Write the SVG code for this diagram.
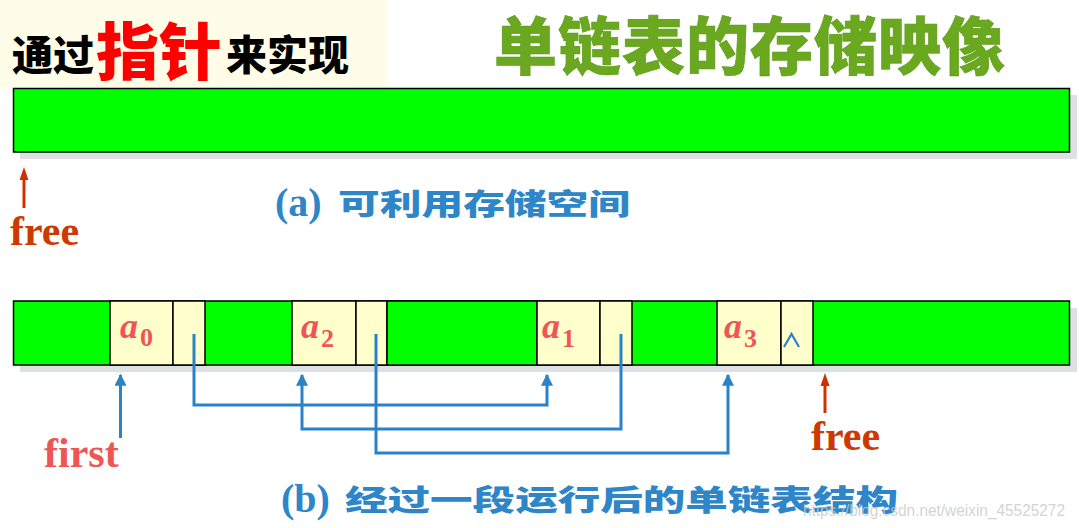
<svg xmlns="http://www.w3.org/2000/svg" width="1079" height="528" viewBox="0 0 1079 528">
<defs>
<style>
.g{fill:#00ff00;stroke:#000;stroke-width:1.5}
.y{fill:#ffffcc;stroke:#000;stroke-width:1.5}
.sh{fill:#dee1e4}
.blue{fill:none;stroke:#2a82c8;stroke-width:3}
.red{fill:none;stroke:#cc3300;stroke-width:3}
.rh{fill:#cc3300}
.cjk{font-family:"Noto Sans CJK SC",sans-serif;font-weight:900}
.ser{font-family:"Liberation Serif",serif;font-weight:bold}
.lab{font-family:"Liberation Serif",serif;font-weight:bold;fill:#f05555}
.cap{fill:#2e86c8}
.free{fill:#cc3a00}
</style>
<marker id="ab" viewBox="0 0 10 10" refX="9" refY="5" markerWidth="4" markerHeight="4" orient="auto" markerUnits="strokeWidth">
<path d="M0,0 L10,5 L0,10 z" fill="#2a82c8"/>
</marker>
</defs>

<g id="title-left">
<rect x="0" y="0" width="388" height="87" fill="#fffde7"/>
<text class="cjk" y="70" font-size="41" fill="#000"><tspan x="12">通过</tspan><tspan x="96" y="75" font-size="62" fill="#ff0000" textLength="126" lengthAdjust="spacingAndGlyphs">指针</tspan><tspan x="226" y="70">来实现</tspan></text>
</g>

<g id="title-right">
<text class="cjk" x="494" y="69" font-size="63" fill="#6aa820" stroke="#5e9a1a" stroke-width="0.6" letter-spacing="1">单链表的存储映像</text>
</g>

<g id="memory-a">
<rect class="sh" x="20" y="95" width="1057" height="64"/>
<rect class="g" x="13.5" y="88.5" width="1056" height="63.5"/>
</g>

<g id="caption-a" class="cap">
<text class="ser" x="275" y="216" font-size="40">(a)</text>
<text class="cjk" x="338" y="215" font-size="29" textLength="292" lengthAdjust="spacingAndGlyphs" font-weight="bold">可利用存储空间</text>
</g>

<g id="free-a">
<line class="red" x1="24" y1="208" x2="24" y2="178"/>
<polygon class="rh" points="24,167 19.5,180 28.5,180"/>
<text class="ser free" x="10" y="245" font-size="42">free</text>
</g>

<g id="memory-b">
<rect class="sh" x="20" y="308" width="1057" height="64"/>
<rect class="g" x="13.5" y="301" width="1056" height="64"/>
<rect class="y" x="110" y="301" width="63" height="64"/>
<rect class="y" x="173" y="301" width="32" height="64"/>
<rect class="y" x="292" y="301" width="64" height="64"/>
<rect class="y" x="356" y="301" width="31" height="64"/>
<rect class="g" x="387" y="301" width="150" height="64"/>
<rect class="y" x="537" y="301" width="63" height="64"/>
<rect class="y" x="600" y="301" width="32" height="64"/>
<rect class="y" x="717" y="301" width="64" height="64"/>
<rect class="y" x="781" y="301" width="32" height="64"/>
</g>

<g id="node-a0"><text class="lab" x="120" y="338" font-size="36" font-style="italic">a<tspan font-size="26" font-style="normal" dy="8" dx="2">0</tspan></text></g>
<g id="node-a2"><text class="lab" x="301" y="338" font-size="36" font-style="italic">a<tspan font-size="26" font-style="normal" dy="9" dx="2">2</tspan></text></g>
<g id="node-a1"><text class="lab" x="542" y="338" font-size="36" font-style="italic">a<tspan font-size="26" font-style="normal" dy="9" dx="2">1</tspan></text></g>
<g id="node-a3"><text class="lab" x="724" y="338" font-size="36" font-style="italic">a<tspan font-size="26" font-style="normal" dy="9" dx="2">3</tspan></text></g>
<g id="null-ptr"><polyline points="784,347 791.5,334 799,347" fill="none" stroke="#2a82c8" stroke-width="2.2"/></g>

<g id="connectors">
<path class="blue" d="M120.5,438 V375" marker-end="url(#ab)"/>
<path class="blue" d="M194,334 V405 H547 V375" marker-end="url(#ab)"/>
<path class="blue" d="M621,334 V429 H302 V375" marker-end="url(#ab)"/>
<path class="blue" d="M376,334 V453 H728 V375" marker-end="url(#ab)"/>
<line class="red" x1="825" y1="413" x2="825" y2="384"/>
<polygon class="rh" points="825,373 820.5,386 829.5,386"/>
</g>

<g id="first-label"><text class="lab" x="44" y="467" font-size="42">first</text></g>
<g id="free-b"><text class="ser free" x="811" y="450" font-size="42">free</text></g>

<g id="caption-b" class="cap">
<text class="ser" x="281" y="512" font-size="40">(b)</text>
<text class="cjk" x="345" y="511" font-size="29" textLength="553" lengthAdjust="spacingAndGlyphs" font-weight="bold">经过一段运行后的单链表结构</text>
</g>

<g id="watermark"><text x="803" y="516" font-family="Liberation Sans, sans-serif" font-size="16" fill="#c8c8c8" fill-opacity="0.8" textLength="262" lengthAdjust="spacingAndGlyphs">https://blog.csdn.net/weixin_45525272</text></g>
</svg>
